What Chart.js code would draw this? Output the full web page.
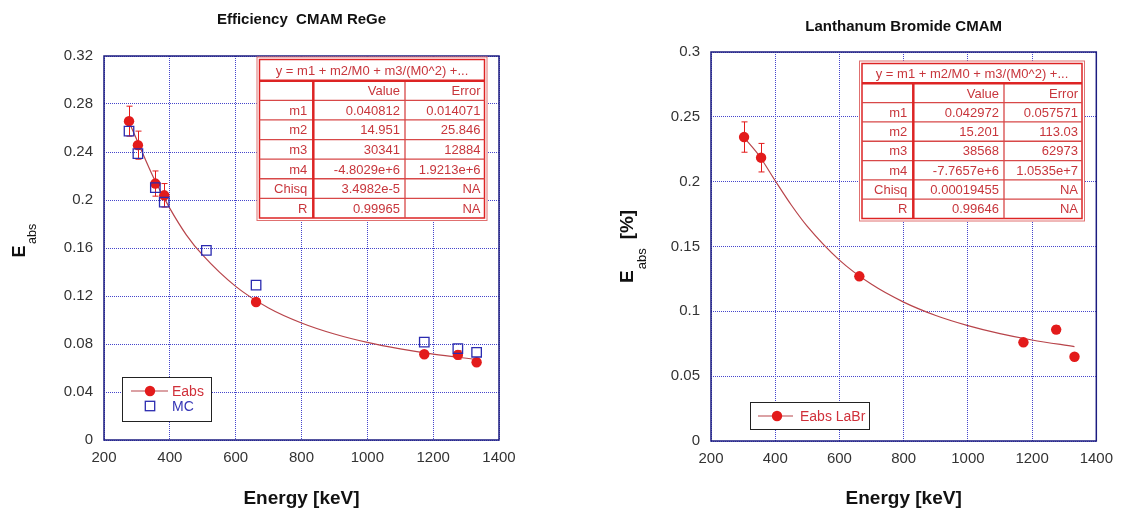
<!DOCTYPE html>
<html>
<head>
<meta charset="utf-8">
<title>Efficiency CMAM</title>
<script src="https://cdn.jsdelivr.net/npm/chart.js@4.4.1/dist/chart.umd.min.js"></script>
<style>
  body { margin: 0; background: #fff; }
  #wrap { display: flex; width: 1122px; height: 508px; }
  canvas { display: block; }
</style>
</head>
<body>
<div id="wrap">
  <canvas id="geChart" width="561" height="508"></canvas>
  <canvas id="labrChart" width="561" height="508"></canvas>
</div>
<script>
// --- ReGe detector (left panel) ---
const geEnergy = [276, 303, 356, 383, 662, 1173, 1275, 1332];
const geEabs = [0.2657, 0.2457, 0.2137, 0.2039, 0.1150, 0.0715, 0.0709, 0.0648];
const geEabsErr = [0.0125, 0.0117, 0.0105, 0.0098, 0, 0, 0.0035, 0];
const mcEnergy = [276, 303, 356, 383, 511, 662, 1173, 1275, 1332];
const mcEff = [0.2574, 0.2387, 0.2103, 0.1983, 0.1580, 0.1290, 0.0815, 0.0762, 0.0731];
// fit curve
const geFitEnergy = [276, 300, 350, 400, 450, 500, 600, 700, 800, 900, 1000, 1100, 1200, 1332];
const geFitEff = [0.265, 0.250, 0.219, 0.193, 0.171, 0.154, 0.128, 0.110, 0.0975, 0.0883, 0.0813, 0.0759, 0.0716, 0.0671];
const geYTicks = [0, 0.04, 0.08, 0.12, 0.16, 0.2, 0.24, 0.28, 0.32];

// --- LaBr detector (right panel) ---
const labrEnergy = [303, 356, 662, 1173, 1275, 1332];
const labrEabs = [0.2344, 0.2185, 0.1270, 0.0761, 0.0859, 0.0650];
const labrEabsErr = [0.0117, 0.0110, 0, 0, 0.003, 0];
const labrFitEnergy = [303, 350, 400, 450, 500, 600, 700, 800, 900, 1000, 1100, 1200, 1332];
const labrFitEff = [0.234, 0.220, 0.2007, 0.182, 0.1655, 0.1395, 0.1208, 0.1071, 0.0968, 0.0890, 0.0828, 0.0779, 0.0728];
const labrYTicks = [0, 0.05, 0.1, 0.15, 0.2, 0.25, 0.3];

const energyTicks = [200, 400, 600, 800, 1000, 1200, 1400];

// fit result tables
const fitHeader = "y = m1 + m2/M0 + m3/(M0^2) +...";
const fitColumns = ["", "Value", "Error"];
const fitParams = ["m1", "m2", "m3", "m4", "Chisq", "R"];
const geFitValues = ["0.040812", "14.951", "30341", "-4.8029e+6", "3.4982e-5", "0.99965"];
const geFitErrors = ["0.014071", "25.846", "12884", "1.9213e+6", "NA", "NA"];
const labrFitValues = ["0.042972", "15.201", "38568", "-7.7657e+6", "0.00019455", "0.99646"];
const labrFitErrors = ["0.057571", "113.03", "62973", "1.0535e+7", "NA", "NA"];

const FONT = "'Liberation Sans', Arial, sans-serif";
Chart.defaults.font.family = FONT;
Chart.defaults.color = "#333";

const RED = "#e31b1b";
const FIT_RED = "#b8444a";
const MC_BLUE = "#2b2bb0";
const FRAME = "#1c1c80";
const TABLE_LINE = "#dd2424";
const TABLE_TEXT = "#c8363c";

const pts = (xs, ys) => xs.map((x, i) => ({ x: x, y: ys[i] }));

const errorBarPlugin = {
  id: "errorBars",
  beforeDatasetsDraw(chart) {
    const ctx = chart.ctx;
    const xs = chart.scales.x, ys = chart.scales.y;
    chart.data.datasets.forEach(ds => {
      if (!ds.errorBars) return;
      ctx.save();
      ctx.strokeStyle = ds.pointBackgroundColor;
      ctx.lineWidth = 1;
      ds.data.forEach((p, i) => {
        const e = ds.errorBars[i];
        if (!e) return;
        const px = Math.round(xs.getPixelForValue(p.x)) + 0.5;
        const top = ys.getPixelForValue(p.y + e);
        const bot = ys.getPixelForValue(p.y - e);
        ctx.beginPath();
        ctx.moveTo(px, top); ctx.lineTo(px, bot);
        ctx.moveTo(px - 3, top); ctx.lineTo(px + 3, top);
        ctx.moveTo(px - 3, bot); ctx.lineTo(px + 3, bot);
        ctx.stroke();
      });
      ctx.restore();
    });
  }
};

function drawYTitle(ctx, t) {
  ctx.save();
  ctx.translate(t.x, t.y);
  ctx.rotate(-Math.PI / 2);
  ctx.textAlign = "left";
  ctx.textBaseline = "alphabetic";
  ctx.fillStyle = "#111";
  let u = 0;
  t.parts.forEach(p => {
    u += p.gap || 0;
    ctx.font = p.font;
    ctx.fillText(p.text, u, p.drop || 0);
    u += ctx.measureText(p.text).width;
  });
  ctx.restore();
}

function drawTable(ctx, t, values, errors) {
  const ins = 2.5;
  ctx.save();
  ctx.fillStyle = "#fff";
  ctx.fillRect(t.x0, t.y0, t.x1 - t.x0, t.y1 - t.y0);
  ctx.strokeStyle = "#e07070";
  ctx.lineWidth = 1;
  ctx.strokeRect(t.x0, t.y0, t.x1 - t.x0, t.y1 - t.y0);
  const ix0 = t.x0 + ins, iy0 = t.y0 + ins, ix1 = t.x1 - ins, iy1 = t.y1 - ins;
  ctx.strokeStyle = TABLE_LINE;
  ctx.lineWidth = 1.5;
  ctx.strokeRect(ix0, iy0, ix1 - ix0, iy1 - iy0);

  const rows = [fitColumns].concat(fitParams.map((p, i) => [p, values[i], errors[i]]));
  const rh = (iy1 - t.head) / rows.length;

  ctx.lineWidth = 1.3;
  ctx.strokeStyle = "#d84848";
  ctx.beginPath();
  for (let r = 1; r < rows.length; r++) {
    ctx.moveTo(ix0, t.head + r * rh);
    ctx.lineTo(ix1, t.head + r * rh);
  }
  ctx.moveTo(t.c2, t.head);
  ctx.lineTo(t.c2, iy1);
  ctx.stroke();

  ctx.lineWidth = 2.5;
  ctx.strokeStyle = TABLE_LINE;
  ctx.beginPath();
  ctx.moveTo(ix0, t.head); ctx.lineTo(ix1, t.head);
  ctx.moveTo(t.c1, t.head); ctx.lineTo(t.c1, iy1);
  ctx.stroke();

  ctx.fillStyle = TABLE_TEXT;
  ctx.font = "13px " + FONT;
  ctx.textBaseline = "middle";
  ctx.textAlign = "center";
  ctx.fillText(fitHeader, (ix0 + ix1) / 2, (iy0 + t.head) / 2 + 1);
  ctx.textAlign = "right";
  const rights = [t.c1 - 6, t.c2 - 5, ix1 - 4];
  rows.forEach((row, r) => {
    const cy = t.head + (r + 0.5) * rh + 1;
    row.forEach((txt, c) => ctx.fillText(txt, rights[c], cy));
  });
  ctx.restore();
}

function drawLegend(ctx, lg) {
  ctx.save();
  ctx.fillStyle = "#fff";
  ctx.fillRect(lg.x0, lg.y0, lg.x1 - lg.x0, lg.y1 - lg.y0);
  ctx.strokeStyle = "#222";
  ctx.lineWidth = 1;
  ctx.strokeRect(lg.x0 + 0.5, lg.y0 + 0.5, lg.x1 - lg.x0, lg.y1 - lg.y0);
  ctx.font = "14px " + FONT;
  ctx.textBaseline = "middle";
  ctx.textAlign = "left";
  lg.items.forEach(it => {
    if (it.kind === "line") {
      ctx.strokeStyle = FIT_RED;
      ctx.lineWidth = 1.2;
      ctx.beginPath();
      ctx.moveTo(lg.lineX0, it.y); ctx.lineTo(lg.lineX1, it.y);
      ctx.stroke();
      ctx.fillStyle = RED;
      ctx.beginPath();
      ctx.arc(lg.mark, it.y, 5.2, 0, Math.PI * 2);
      ctx.fill();
    } else {
      ctx.strokeStyle = MC_BLUE;
      ctx.lineWidth = 1.3;
      ctx.strokeRect(lg.mark - 4.7, it.y - 4.7, 9.4, 9.4);
    }
    ctx.fillStyle = it.color;
    ctx.fillText(it.text, lg.textX, it.y + 1);
  });
  ctx.restore();
}

function makeDecor(cfg) {
  return {
    id: "decor",
    beforeDraw(chart) {
      const ctx = chart.ctx;
      ctx.save();
      ctx.fillStyle = "#fff";
      ctx.fillRect(0, 0, chart.width, chart.height);
      ctx.restore();
    },
    afterDraw(chart) {
      const ctx = chart.ctx;
      const a = chart.chartArea;
      const cx = (a.left + a.right) / 2;
      ctx.save();
      ctx.strokeStyle = FRAME;
      ctx.lineWidth = 1.5;
      ctx.strokeRect(a.left, a.top, a.right - a.left, a.bottom - a.top);

      ctx.fillStyle = "#111";
      ctx.textAlign = "center";
      ctx.textBaseline = "middle";
      ctx.font = "bold 15px " + FONT;
      ctx.fillText(cfg.title, cx, cfg.titleY);
      ctx.font = "bold 19px " + FONT;
      ctx.textBaseline = "alphabetic";
      ctx.fillText("Energy [keV]", cx, 504);
      ctx.restore();

      drawYTitle(ctx, cfg.yTitle);
      drawTable(ctx, cfg.table, cfg.values, cfg.errors);
      drawLegend(ctx, cfg.legend);
    }
  };
}

function buildChart(id, datasets, yTicks, yMax, layout, decor) {
  return new Chart(document.getElementById(id), {
    type: "scatter",
    data: { datasets: datasets },
    options: {
      responsive: false,
      animation: false,
      events: [],
      layout: { padding: { top: layout.top, right: layout.right, left: 0, bottom: 0 } },
      plugins: { legend: { display: false }, tooltip: { enabled: false } },
      scales: {
        x: {
          type: "linear",
          min: 200, max: 1400,
          afterFit: s => { s.height = layout.xHeight; },
          afterBuildTicks: s => { s.ticks = energyTicks.map(v => ({ value: v })); },
          ticks: { callback: v => String(v), padding: 9, maxRotation: 0, autoSkip: false, font: { size: 15 }, color: "#333" },
          grid: { color: "#4545cc", lineWidth: 1, drawTicks: false },
          border: { display: false, dash: [1, 1] }
        },
        y: {
          type: "linear",
          min: 0, max: yMax,
          afterFit: s => { s.width = layout.yWidth; },
          afterBuildTicks: s => { s.ticks = yTicks.map(v => ({ value: v })); },
          ticks: { callback: v => String(+v.toFixed(2)), padding: 11, autoSkip: false, font: { size: 15 }, color: "#333" },
          grid: { color: "#4545cc", lineWidth: 1, drawTicks: false },
          border: { display: false, dash: [1, 1] }
        }
      }
    },
    plugins: [errorBarPlugin, makeDecor(decor)]
  });
}

const fitStyle = {
  showLine: true,
  pointRadius: 0,
  borderColor: FIT_RED,
  borderWidth: 1.2,
  cubicInterpolationMode: "monotone",
  order: 3
};
const eabsStyle = {
  showLine: false,
  pointRadius: 5.2,
  pointBackgroundColor: RED,
  pointBorderColor: RED,
  pointBorderWidth: 0,
  order: 2
};

buildChart("geChart", [
  Object.assign({ label: "fit", data: pts(geFitEnergy, geFitEff) }, fitStyle),
  Object.assign({ label: "Eabs", data: pts(geEnergy, geEabs), errorBars: geEabsErr }, eabsStyle),
  {
    label: "MC",
    data: pts(mcEnergy, mcEff),
    showLine: false,
    pointStyle: "rect",
    pointRadius: 6.7,
    pointBackgroundColor: "rgba(0,0,0,0)",
    pointBorderColor: MC_BLUE,
    pointBorderWidth: 1.3,
    order: 1
  }
], geYTicks, 0.32,
  { top: 56, right: 62, xHeight: 68, yWidth: 104 },
  {
    title: "Efficiency  CMAM ReGe",
    titleY: 20,
    yTitle: {
      x: 25, y: 257.5,
      parts: [
        { text: "E", font: "bold 18px " + FONT },
        { text: "abs", font: "12.5px " + FONT, drop: 11, gap: 1.5 }
      ]
    },
    table: { x0: 257, y0: 57, x1: 487, y1: 220.5, head: 80.7, c1: 313.3, c2: 405 },
    values: geFitValues,
    errors: geFitErrors,
    legend: {
      x0: 122, y0: 377, x1: 211, y1: 421,
      lineX0: 131, lineX1: 168, mark: 150, textX: 172,
      items: [
        { kind: "line", text: "Eabs", color: "#d0303a", y: 391 },
        { kind: "square", text: "MC", color: "#3535b5", y: 406 }
      ]
    }
  });

buildChart("labrChart", [
  Object.assign({ label: "fit", data: pts(labrFitEnergy, labrFitEff) }, fitStyle),
  Object.assign({ label: "Eabs LaBr", data: pts(labrEnergy, labrEabs), errorBars: labrEabsErr }, eabsStyle)
], labrYTicks, 0.3,
  { top: 52, right: 21, xHeight: 67, yWidth: 150 },
  {
    title: "Lanthanum Bromide CMAM",
    titleY: 27,
    yTitle: {
      x: 71.5, y: 283,
      parts: [
        { text: "E", font: "bold 19px " + FONT },
        { text: "abs", font: "13px " + FONT, drop: 13.5, gap: 1 },
        { text: "[%]", font: "bold 19px " + FONT, gap: 9 }
      ]
    },
    table: { x0: 298.5, y0: 61, x1: 523.5, y1: 221, head: 83.3, c1: 352.3, c2: 443 },
    values: labrFitValues,
    errors: labrFitErrors,
    legend: {
      x0: 189, y0: 402, x1: 308, y1: 429,
      lineX0: 197, lineX1: 232, mark: 216, textX: 239,
      items: [
        { kind: "line", text: "Eabs LaBr", color: "#d0303a", y: 416 }
      ]
    }
  });
</script>
</body>
</html>
